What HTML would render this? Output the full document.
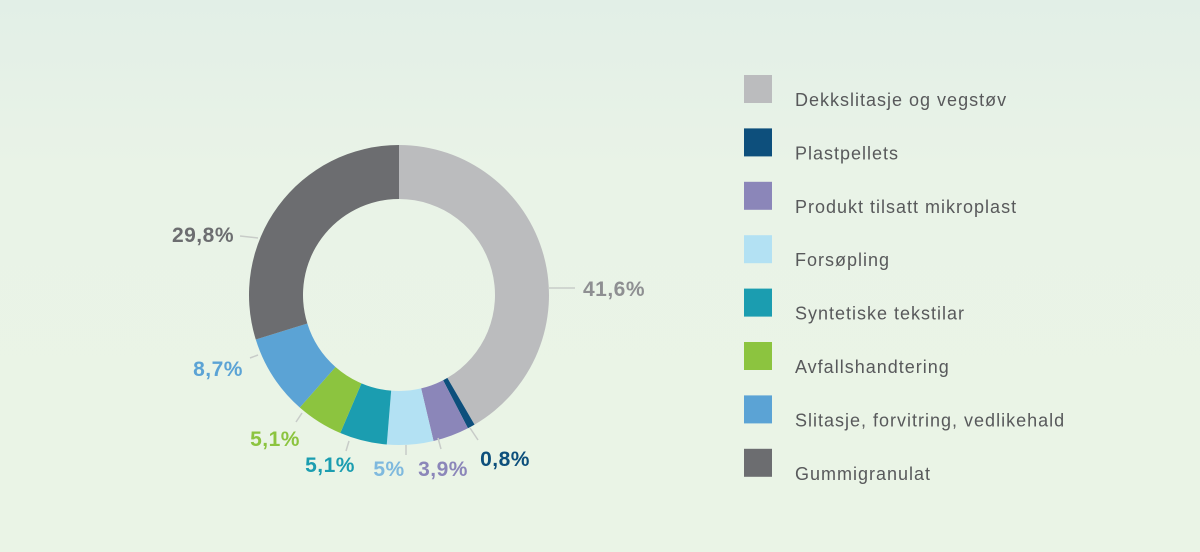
<!DOCTYPE html>
<html><head><meta charset="utf-8"><style>
body{margin:0;width:1200px;height:552px;overflow:hidden;background:linear-gradient(#e2efe7,#e9f3e7 30%,#eaf4e6);font-family:"Liberation Sans",sans-serif;}
svg{position:absolute;left:0;top:0}
</style></head><body>
<svg width="1200" height="552">
<g id="slices"></g><g id="labels"></g><g id="legend"></g>
</svg>
<script>
const categories=["Dekkslitasje og vegstøv","Plastpellets","Produkt tilsatt mikroplast","Forsøpling","Syntetiske tekstilar","Avfallshandtering","Slitasje, forvitring, vedlikehald","Gummigranulat"];
const values=[41.6,0.8,3.9,5,5.1,5.1,8.7,29.8];
const valueLabels=["41,6%","0,8%","3,9%","5%","5,1%","5,1%","8,7%","29,8%"];
const colors=["#bbbcbe","#0d4f7c","#8b86b9","#b3e1f3","#1b9db0","#8cc43f","#5ba3d5","#6c6d70"];
const labelColors=["#8e8f92","#0d4f7c","#8b86b9","#7fb9de","#1b9db0","#8cc43f","#5ba3d5","#6c6d70"];
const labelPos=[[614,296,"middle"],[505,466,"middle"],[443,476,"middle"],[389,476,"middle"],[330,472,"middle"],[275,446,"middle"],[218,376,"middle"],[234,242,"end"]];
const leaders=[[548,288,575,288],[470,428,478,440],[438,438,441,449],[406,445,406,455],[349,441,346,451],[302,413,296,422],[258,355,250,358],[258,238,240,236]];
const cx=399,cy=295,R=150,r0=96;
const NS="http://www.w3.org/2000/svg";
const total=values.reduce((a,b)=>a+b,0);
function pt(a,rad){return [cx+rad*Math.sin(a),cy-rad*Math.cos(a)];}
let acc=0;
const gS=document.getElementById('slices'),gL=document.getElementById('labels'),gG=document.getElementById('legend');
values.forEach((v,i)=>{
 const a0=acc/total*2*Math.PI;acc+=v;const a1=acc/total*2*Math.PI;
 const large=(a1-a0)>Math.PI?1:0;
 const p1=pt(a0,R),p2=pt(a1,R),p3=pt(a1,r0),p4=pt(a0,r0);
 const p=document.createElementNS(NS,'path');
 p.setAttribute('d',`M${p1}A${R},${R} 0 ${large} 1 ${p2}L${p3}A${r0},${r0} 0 ${large} 0 ${p4}Z`);
 p.setAttribute('fill',colors[i]);
 
 
 gS.appendChild(p);
 const L=leaders[i];
 const ln=document.createElementNS(NS,'line');
 ln.setAttribute('x1',L[0]);ln.setAttribute('y1',L[1]);ln.setAttribute('x2',L[2]);ln.setAttribute('y2',L[3]);
 ln.setAttribute('stroke','#c8ccc8');ln.setAttribute('stroke-width','1.5');
 
 
 gL.appendChild(ln);
 const t=document.createElementNS(NS,'text');
 t.setAttribute('x',labelPos[i][0]);t.setAttribute('y',labelPos[i][1]);t.setAttribute('text-anchor',labelPos[i][2]);
 t.setAttribute('font-size','21');t.setAttribute('font-weight','bold');t.setAttribute('fill',labelColors[i]);
 t.setAttribute('letter-spacing','0.5');
 t.textContent=valueLabels[i];
 
 
 gL.appendChild(t);
 const y=89+i*53.4;
 const s=document.createElementNS(NS,'rect');
 s.setAttribute('x',744);s.setAttribute('y',y-14);s.setAttribute('width',28);s.setAttribute('height',28);s.setAttribute('fill',colors[i]);
 
 
 gG.appendChild(s);
 const lt=document.createElementNS(NS,'text');
 lt.setAttribute('x',795);lt.setAttribute('y',y+17);lt.setAttribute('font-size','18');lt.setAttribute('fill','#58595b');
 lt.setAttribute('letter-spacing','1');
 lt.textContent=categories[i];
 
 
 gG.appendChild(lt);
});
</script>
</body></html>
